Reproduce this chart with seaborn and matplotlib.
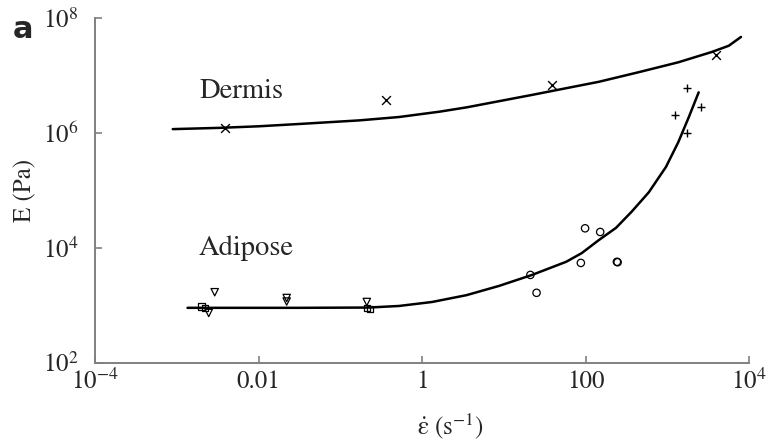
import numpy as np
import pandas as pd
import seaborn as sns
import matplotlib
matplotlib.use("Agg")
import matplotlib.pyplot as plt

# ----- Data ----- #
# Dermis fitted curve
dermis_fit_rate = [8.9e-4, 3.3e-3, 0.010, 0.032, 0.17, 0.52, 1.62, 3.5, 21.9, 145, 450, 1350, 3470, 5600, 7900]
dermis_fit_E = [1.17e6, 1.23e6, 1.31e6, 1.44e6, 1.66e6, 1.9e6, 2.35e6, 2.8e6, 4.6e6, 7.8e6, 1.15e7, 1.7e7, 2.57e7, 3.3e7, 4.7e7]
# Dermis measurements (x markers)
dermis_rate = [0.0039, 0.36, 39, 3900]
dermis_E = [1.23e6, 3.7e6, 6.8e6, 2.3e7]

# Adipose fitted curve
adipose_fit_rate = [1.35e-3, 7.8e-3, 0.032, 0.22, 0.52, 1.32, 3.47, 8.7, 21.9, 57.5, 89, 145, 234,
                    363, 589, 955, 1350, 1820, 2400]
adipose_fit_E = [910, 910, 910, 920, 980, 1150, 1510, 2190, 3390, 5750, 8130, 1.38e4, 2.24e4,
                 4.27e4, 9.3e4, 2.57e5, 6.9e5, 1.9e6, 5.1e6]
# Adipose measurements, grouped by marker
adipose_tri_rate = [2.9e-3, 0.022, 0.022, 2.45e-3, 0.21]
adipose_tri_E = [1700, 1350, 1170, 740, 1150]
adipose_sq_rate = [2.0e-3, 2.2e-3, 0.21, 0.23]
adipose_sq_E = [950, 910, 910, 870]
adipose_circ_rate = [98, 150, 87, 240, 245, 21, 25]
adipose_circ_E = [2.2e4, 1.9e4, 5500, 5750, 5650, 3400, 1660]
adipose_plus_rate = [1740, 2570, 1230, 1740]
adipose_plus_E = [6.0e6, 2.8e6, 2.1e6, 1.0e6]

x_ticks = [1e-4, 1e-2, 1, 1e2, 1e4]
x_ticklabels = [r"$10^{-4}$", "0.01", "1", "100", r"$10^{4}$"]
y_ticks = [1e2, 1e4, 1e6, 1e8]
y_ticklabels = [r"$10^{2}$", r"$10^{4}$", r"$10^{6}$", r"$10^{8}$"]

# ----- Style ----- #
sns.set_style("ticks")
plt.rcParams["font.family"] = ["STIXGeneral", "DejaVu Serif"]
plt.rcParams["mathtext.fontset"] = "stix"

fig = plt.figure(figsize=(7.67, 4.41), dpi=100)
ax = fig.add_axes([0.124, 0.177, 0.853, 0.782])

# ----- Curves ----- #
for r, e in [(dermis_fit_rate, dermis_fit_E), (adipose_fit_rate, adipose_fit_E)]:
    d = pd.DataFrame({"rate": r, "E": e})
    sns.lineplot(data=d, x="rate", y="E", sort=False, estimator=None,
                 color="black", lw=1.8, ax=ax)

# ----- Markers ----- #
sns.scatterplot(x=dermis_rate, y=dermis_E, marker="x", s=40, color="black",
                linewidth=1.0, ax=ax)
sns.scatterplot(x=adipose_tri_rate, y=adipose_tri_E, marker="v", s=28,
                facecolor="none", edgecolor="black", linewidth=0.9, ax=ax)
sns.scatterplot(x=adipose_sq_rate, y=adipose_sq_E, marker="s", s=22,
                facecolor="none", edgecolor="black", linewidth=0.9, ax=ax)
sns.scatterplot(x=adipose_circ_rate, y=adipose_circ_E, marker="o", s=28,
                facecolor="none", edgecolor="black", linewidth=0.9, ax=ax)
sns.scatterplot(x=adipose_plus_rate, y=adipose_plus_E, marker="+", s=30,
                color="black", linewidth=1.0, ax=ax)

# ----- Axes ----- #
ax.set_xscale("log")
ax.set_yscale("log")
ax.set_xlim(1e-4, 1e4)
ax.set_ylim(1e2, 1e8)
ax.set_xticks(x_ticks)
ax.set_xticklabels(x_ticklabels)
ax.set_yticks(y_ticks)
ax.set_yticklabels(y_ticklabels)
ax.minorticks_off()
ax.tick_params(direction="in", length=5, width=1.2, color="#808080",
               labelsize=18)
ax.tick_params(axis="x", pad=5)
ax.tick_params(axis="y", pad=12)
sns.despine(ax=ax)
for s in ["left", "bottom"]:
    ax.spines[s].set_color("#808080")
    ax.spines[s].set_linewidth(1.4)

ax.set_ylabel("E (Pa)", fontsize=18, labelpad=4)
ax.set_xlabel(r"$\dot{\mathrm{\varepsilon}}$ (s$^{-1}$)", fontsize=18)
ax.xaxis.set_label_coords(0.543, -0.14)

ax.text(6.2e-3, 5.4e6, "Dermis", fontsize=20.5, ha="center", va="center")
ax.text(7.0e-3, 1.0e4, "Adipose", fontsize=20.5, ha="center", va="center")
fig.text(0.017, 0.965, "a", fontsize=22, fontweight="bold",
         family="DejaVu Sans", ha="left", va="top")

fig.savefig("out.png", dpi=100)
